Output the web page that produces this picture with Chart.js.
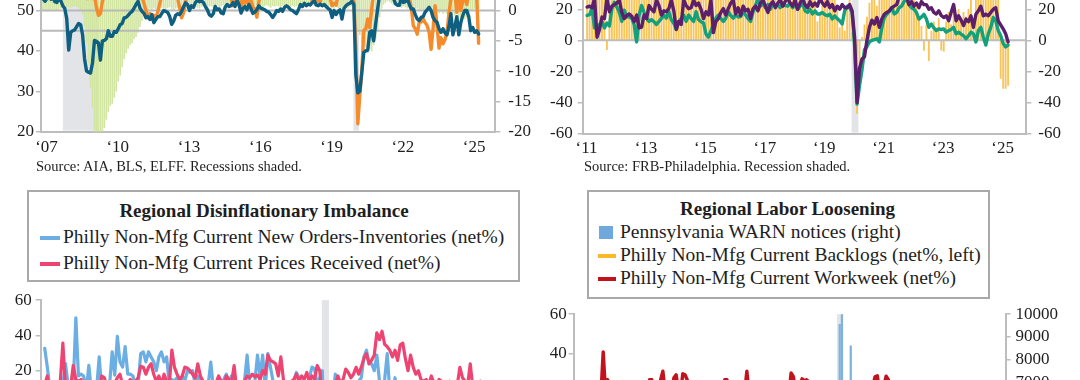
<!DOCTYPE html>
<html lang="en">
<head>
<meta charset="UTF-8">
<title>Regional indicators</title>
<script src="https://cdn.jsdelivr.net/npm/chart.js"></script>
<style>
  html, body { margin: 0; padding: 0; }
  body { position: relative; width: 1080px; height: 380px; overflow: hidden; background: #fff;
         font-family: "Liberation Serif", serif; color: #1e1e1e; }
  .wrap { position: absolute; }
  .src { position: absolute; font-size: 14.5px; line-height: 14.5px; white-space: nowrap; }
  .lgd { position: absolute; box-sizing: border-box; border: 2px solid #a9a9a9; background: #fff; }
  .ttl { position: absolute; left: 0; height: 22px; line-height: 22px; font-size: 19px; font-weight: bold; text-align: center; white-space: nowrap; }
  .row { position: absolute; height: 22px; line-height: 22px; font-size: 19.5px; white-space: nowrap; }
  .mk { position: absolute; }
</style>
</head>
<body>

<div class="wrap" id="tl"></div>
<div class="wrap" id="tr"></div>
<div class="wrap" id="bl"></div>
<div class="wrap" id="br"></div>

<div class="src" style="left:36px;top:159px">Source: AIA, BLS, ELFF. Recessions shaded.</div>
<div class="src" style="left:584px;top:159px">Source: FRB-Philadelphia. Recession shaded.</div>

<div class="lgd" style="left:27px;top:190px;width:493px;height:92px">
  <div class="ttl" style="top:8px;width:470px">Regional Disinflationary Imbalance</div>
  <span class="mk" style="left:11px;top:44px;width:20px;height:4px;background:#6aaee4"></span>
  <div class="row" style="left:34px;top:34px">Philly Non-Mfg Current New Orders-Inventories (net%)</div>
  <span class="mk" style="left:11px;top:70px;width:20px;height:4px;background:#ee4471"></span>
  <div class="row" style="left:34px;top:60px">Philly Non-Mfg Current Prices Received (net%)</div>
</div>

<div class="lgd" style="left:587px;top:190px;width:403px;height:109px">
  <div class="ttl" style="top:6px;width:397px">Regional Labor Loosening</div>
  <span class="mk" style="left:10px;top:34px;width:14px;height:13px;background:#6fa8dc"></span>
  <div class="row" style="left:31px;top:29px">Pennsylvania WARN notices (right)</div>
  <span class="mk" style="left:9px;top:62px;width:18px;height:4px;background:#fbb829"></span>
  <div class="row" style="left:31px;top:52px">Philly Non-Mfg Current Backlogs (net%, left)</div>
  <span class="mk" style="left:9px;top:85px;width:18px;height:4px;background:#c2131d"></span>
  <div class="row" style="left:31px;top:75px">Philly Non-Mfg Current Workweek (net%)</div>
</div>

<script>
// ---------- data ----------
const recessions = [[2007.92, 2009.45], [2020.15, 2020.38]];

// top-left panel, monthly from Feb 2007
const tlStart = 2007 + 1 / 12;
const tlBlue = [
  53, 52.3, 53, 53.5, 52.8, 53.2, 52.2, 52, 53, 52.4, 51.2,
  50.5, 48, 40.2, 44.6, 45, 45.2, 46, 46.8, 46.5, 44, 38, 35,
  34.7, 34.5, 37, 42.6, 42.4, 42, 37.7, 42.5, 42.6, 43, 45, 43.6,
  43.6, 44.8, 44.6, 45.5, 46.5, 46.8, 48.2, 48.3, 48.8, 49.4, 49.8, 50.6,
  51.5, 52.3, 50.6, 49.8, 49.3, 48.2, 48.5, 47.8, 49, 47, 47.8, 48.5,
  48.5, 49.3, 50, 49.8, 49.5, 48.5, 46.6, 47.4, 48.8, 49.2, 49, 49.8,
  51, 51.9, 51.5, 50, 51.2, 50.8, 52, 52.6, 52.2, 52.4, 52, 51,
  50.2, 49, 48.6, 49.2, 51, 50.2, 50.4, 49.4, 49.2, 50.8, 51.5, 51,
  51.2, 52, 51, 52.5, 51.5, 49.4, 50.5, 51, 50.2, 51.5, 50.5, 49.3,
  49.6, 50.2, 51.2, 50.6, 50.4, 50.2, 49.8, 49.6, 49, 48.3, 49, 50,
  49.8, 50.4, 49.8, 50.8, 51.2, 50.8, 50.2, 50, 49.6, 49.2, 50.2, 51.5,
  51, 51.8, 51.2, 51.6, 51.4, 52, 52.4, 51.4, 51.2, 51.6, 51.2, 51.5,
  51, 50.5, 50.2, 48.3, 50, 49, 49.8, 50.2, 47.9, 50.5, 51.2, 51.6,
  51.8, 52.3, 51.5, 34, 29.6, 30, 34.6, 39.6, 40, 40.2, 44.6, 45,
  42.5, 46.7, 50.4, 54, 55, 56, 55, 55, 54, 54.5, 53, 51.7,
  51.3, 51.3, 53.5, 52, 52.2, 53, 51.5, 50.4, 50.4, 49, 47.9, 47.5,
  48.3, 48.5, 49.6, 50.2, 50.8, 50, 48.3, 47.5, 47.1, 45.5, 44.6, 45.5,
  44.5, 44, 46, 49.2, 44, 46, 48.5, 44, 47, 48.8, 50, 50,
  48.5, 45, 45.8, 44.6, 45, 44.2
];
const tlOrange = [
  5, 4.5, 5, 6, 5, 4.5, 5, 4, 4.5, 3.5, 3,
  3, 3.5, 2.5, 3, 3.5, 2.5, 3, 2.5, 3, 2.5, 2.5, 2,
  2, 2.5, 2, 2.5, 0.5, -0.8, -0.5, 1.5, 2.5, 3, 3.5, 3,
  3.5, 4, 4.5, 4, 5, 4.5, 4, 4.5, 3.5, 4, 3.5, 3,
  3, 2.5, 2.5, 2.2, 1.2, 0, -1.2, -0.5, -1.5, -0.8, -1.2, -0.2,
  1.2, 2.5, 3, 3.5, 3, 3.5, 3, 2.5, 3, 2, 0.5, -1.2,
  -0.4, 1.5, 2.5, 3, 3.5, 3, 3.5, 4, 3.5, 3, 3.5, 3,
  3, 3.5, 3, 2.5, 3, 3.5, 3, 2.5, 3, 2.5, 2, 2.5,
  2, 0.8, 2.5, 1.5, 2, 0.5, 2.5, 1.2, 2, 0.9, 1.8, 0.6,
  0.3, -1.1, 1.5, 2.5, 3, 2.5, 3, 3.5, 3, 2.5, 3, 3.5,
  3, 3.5, 4, 3.5, 3, 3.5, 4, 3, 3.5, 3, 3.5, 3,
  3, 2.5, 3, 2.5, 3, 1.5, 2, 1.4, 1.8, 1.5, 2.5, 3,
  2.5, 3, 2, 0.8, 1.2, 0.9, 2.5, 3, 2.5, 2, 2.5, 3,
  3, 2.5, 1.5, -6, -18.7, -14, -10, -3.3, -3, -1.4, -2.8, 0.3,
  3, 4, 5, 6, 6.5, 6, 5.5, 5, 5.5, 5, 4.5, 4,
  4, 3.5, 3, 3, 2.5, 2.5, 2, 0.5, -2.5, -3, -3.9, -1.9,
  -1.9, -1.4, -2, -2.5, -3.6, -6.4, -3, 0.8, -2.5, -6.2, -4.5, -5.5,
  -4.8, -3.6, -0.5, 2, 2.5, 3, -0.3, 3, 0, 1.5, 2.5, 1,
  3, 3.5, 3, 2.5, 2.5, -5.4
];
// bars hang from the top of the panel down to these levels (left scale)
const tlBarTop = 60;
const tlBars = [
  50, 50.3, 49.8, 50.2, 50, 50.4, 49.9, 50.1, 50.3, 50.6, 50.8,
  51, 50.8, 51, 50.8, 51, 51.2, 51, 50.6, 50, 49, 46, 42,
  37, 31, 26, 19, 17, 16, 17, 19, 21, 23, 25, 26.5,
  27, 28.5, 30, 32.5, 34, 36, 38, 39.5, 40.6, 41.5, 42, 43,
  43.5, 44.6, 46, 47.5, 49, 50, 50.3, 50.5, 50.2, 50.6, 50.4, 50.8,
  50.5, 50.8, 50.6, 50.2, 50.7, 50.9, 50.4, 50.3, 50.6, 50.8, 50.4, 50.7,
  50.9, 50.6, 51, 50.7, 50.5, 50.9, 51.1, 50.8, 50.6, 51, 51.2, 50.9,
  50.7, 51, 51.2, 50.8, 51, 51.3, 50.9, 51.1, 51.4, 51, 51.2, 51.5,
  51.1, 51.3, 51.5, 51, 51.4, 51.6, 51.2, 51.5, 51.3, 51.7, 51.4, 51.1,
  51.2, 51.4, 51, 51.3, 50.9, 51.2, 51.4, 51.1, 50.8, 51.2, 51, 51.3,
  51.1, 50.9, 51.3, 51, 51.2, 50.8, 51.1, 51.3, 50.9, 51.2, 51, 51.4,
  51.2, 51.4, 51, 51.3, 51.1, 51.5, 51.2, 51, 51.3, 51.1, 50.9, 51.2,
  51, 50.8, 51.1, 50.9, 50.6, 51, 50.7, 50.5, 50.8, 50.4, 50.7, 50.6,
  51, 51.2, 50, 47, 45, 44, 42, 40, 41, 39.5, 40.5, 40,
  41.5, 43, 45, 48.5, 50.5, 51.5, 52, 52.5, 52.2, 51.8, 51.5, 51.2,
  51, 51.3, 50.8, 51.1, 50.9, 50.6, 50.8, 50.4, 50.6, 50.2, 50.5, 50.1,
  50.3, 49.9, 50.2, 49.7, 50, 49.6, 49.9, 49.5, 49.8, 49.4, 49.7, 49.3,
  49.6, 49.2, 49.5, 49.1, 49.4, 48.8, 49.2, 48.6, 48.2, 48.5, 48, 48.4,
  49.5, 50, 50.2, 50.5, 50.3, 50.6
];
const tlRefLevels = [50, 45];
const tlYears = [2007, 2010, 2013, 2016, 2019, 2022, 2025];

// top-right panel, monthly from Apr 2011
const phStart = 2011.25;
const trPurple = [
  21.4, 22, 21, 27, 2, 7, 15, 14, 27,
  18.4, 22, 23, 24, 26, 18, 14, 16, 17, 15.5, 12, 16.3,
  8, 8.5, 16.3, 14, 22.4, 20, 18.4, 26, 22.4, 16.3, 19, 18.4,
  20.4, 26, 19, 7, 12.2, 10.2, 26, 22.4, 20.4, 21, 26, 22.4,
  24, 20, 14, 18.4, 16.3, 26, 5, 12.2, 14, 18, 20.4, 16.3,
  20.4, 24, 26, 17, 21, 16, 22, 19, 20, 14, 20.4, 22,
  19, 24, 26, 22, 18, 23, 25, 21, 24, 26, 22, 25,
  27, 24, 22, 26, 20, 24, 27, 23, 21, 25, 22, 24,
  22, 27, 24, 22, 25, 21, 23, 19, 22, 20, 23, 21,
  21, 23, 19, 2, -40, -18, -12, -10.5, 0, 8.4, 13, 10.5,
  14.7, 8.4, 13.7, 16.8, 18, 19, 21, 22, 23, 28, 29, 28,
  28, 23, 25, 22, 24, 21, 25, 23, 23, 20, 21, 18,
  17, 19, 16, 14.7, 15.8, 12.6, 18, 23, 12.6, 15.8, 13, 9.5,
  13.7, 12, 15.8, 8.4, 16.8, 19, 22, 15.8, 16.8, 15.8, 18, 20,
  21, 12.6, 10, 7.4, 4.2, -1
];
const trGreen = [
  16, 16.5, 20.4, 8, 8, 10.2, 12.2, 8, 11.2,
  9.2, 20.4, 24.5, 21.4, 18, 12.2, 19.4, 15.3, 15, 14.3, 10.2, -1,
  16.3, 22.4, 18, 14.3, 12.2, 13.3, 12, 10.2, 12.2, 14, 16.3, 14.3,
  18.4, 13.3, 11, 7.1, 12.2, 14, 16.3, 12.2, 16.3, 14, 12.2, 18.4,
  13.3, 12, 11.2, 4.1, 2, 6.1, 10.2, 14.3, 16.3, 14, 12.2, 14.3,
  18.4, 16, 14.3, 16.3, 15, 15.3, 18.4, 16.3, 14, 12.2, 18.4, 22.4,
  27, 22, 24, 21, 23, 20, 24, 22, 23, 21, 24, 22.4,
  22, 24, 21, 23, 20, 22, 24, 19, 18, 20, 17, 19,
  17, 17, 18, 16.5, 15.8, 16.8, 13.7, 15.8, 14, 12.6, 10.5, 19,
  22, 21, 18, -3, -41, -29, -19, -6, -4, -1, 0, 0.5,
  1, -1, 8, 14.7, 16.8, 18.5, 21, 17, 18, 21, 22, 25,
  27, 23, 21, 20, 17.9, 13.7, 15, 16.8, 13.7, 8.4, 10.5, 8,
  6.3, 7.4, 7, 7.4, 5.3, 6.3, 7, 8.4, 4.2, 5.3, 4, 3,
  1, 3, 5.3, 4.2, -1, 6.3, 8.4, 2, -3, 4.2, 8.4, 14.7,
  12.6, 6.3, 3, -2, -4.2, -3
];
const trBars = [
  35, 38, 32, 30, 27, 33, 36, 30, -6,
  30, 34, 38, 36, 33, 31, 35, 32, 29, 34, 30, 28,
  27, 31, 35, 33, 38, 36, 34, 40, 37, 33, 35, 32,
  34, 36, 30, 28, 33, 31, 37, 35, 33, 38, 36, 34,
  33, 30, 28, 27, 29, 33, 28, 31, 34, 32, 30, 35,
  33, 37, 35, 32, 34, 30, 36, 33, 31, 29, 34, 38,
  40, 37, 42, 38, 36, 39, 35, 38, 41, 37, 39, 40,
  38, 41, 36, 39, 37, 35, 40, 36, 33, 35, 31, 28,
  12, 18, 28, 32, 29, 27, 31, 26, 22, 8, 12, 6,
  20, 26, 5, -25, -47, -15, 2, 10, 15, 24, 28, 26,
  22, 27, 32, 36, 40, 38, 42, 39, 37, 40, 36, 38,
  35, 33, 30, 28, 22, 15, 9, -6.5, 10, -13, 6, 12,
  8, 14, -6.3, -7, 12, 18, 10, 22, 16, 20, 14, 18,
  15, 20, 28, 12, 26, 30, 35, 32, 29, 33, 31, 34,
  28, 26, -24.5, -31, -31, -29
];
const trRefLevels = [0];
const trYears = [2011, 2013, 2015, 2017, 2019, 2021, 2023, 2025];

// bottom-left panel, monthly from Apr 2011
const newOrdersInv = [
  32.7, 22, 10, 6, 8, 10, 5, 12, 24,
  12, 14, 12, 50, 17, 18, 17, 8, 23, 8, 6, 10,
  27.8, 8, 6, 10, 12, 30.7, 17.4, 39.5, 25, 22, 33.6, 18,
  18, 17, 10, 12, 29.7, 30.7, 25, 30.7, 27.8, 25, 20, 27.8,
  30.7, 25, 27.8, 12, 15, 14, 16, 13, 17, 14, 20, 19,
  20, 12, 17, 15, 8, 10, 12, 24.8, 10, 6, 8, 12,
  15, 18, 14, 17, 10, 6, 8, 12, 14, 28.8, 12, 8,
  14, 28.8, 17, 28.8, 10, 29.7, 21.9, 14, 8, 6, 10, 5,
  8, 12, 10, 14, 19, 16, 10, 8, 12, 16, 22, 21,
  12, 16, 20, -40, -30, -10, 5, 18, 8, 10, 6, 8,
  10, 5, 12, 8, 14, 16, 27.8, 31.6, 24, 23.9, 20, 28.8,
  14, 8, 15, 29.7, 8, 6, 16, 6, 4, 8, 2, 6,
  10, 3, 7, 5, 12, 2, 8, 6, 4, 10, 9, 3,
  7, 1, 5, 11, 6, 8, 2, 4, 9, 6, 3, 10,
  5, 7, 2, 8, 4, 6
];
const pricesReceived = [
  12, 17, 8, 10, 12, 9, 14, 35.6, 10,
  13, 11, 22.9, 15, 14, 15, 10, 12, 9, 11, 8, 12,
  10, 17, 16, 10, 12, 9, 13, 16, 18, 12, 10, 13,
  15, 12, 14, 16, 22.5, 22, 18, 21.9, 23.9, 18, 14, 17,
  12, 18, 14, 12, 31.7, 21.9, 18, 15, 17, 22, 21.5, 20,
  18, 16, 23.9, 17, 14, 12, 8, 12, 10, 13, 17, 14,
  12, 17, 15, 13, 22.9, 9, 12, 10, 14, 17, 16, 18,
  16.5, 17.5, 15, 20, 18, 28.8, 25.8, 25, 23.9, 17, 27.8, 15,
  10, 12, 14, 15, 18, 14, 17, 15, 19, 14, 17, 15,
  22.9, 20, 5, -15, -10, 2, 8, 12, 17, 13, 15, 20.9,
  19, 16, 18, 21.9, 18, 22, 26.8, 29.7, 23.9, 26, 28.8, 41.5,
  37.6, 42.4, 35, 33.6, 31.6, 27.8, 31.6, 25.8, 34.6, 35.6, 26.8, 20,
  28.8, 22, 18, 20, 15, 14, 15, 12, 17, 13, 12, 15,
  14, 10, 12, 14, 13, 9, 12, 21.9, 16, 14, 12, 23.9,
  10, 12, 8, 14, 10, 12
];

// bottom-right panel
const workweek = [
  20, 41, 22, 27, 18, 20, 16, 19, 21,
  18, 22, 17, 20, 26, 19, 21, 17, 20, 18, 22, 19,
  21, 27, 27, 20, 18, 22, 27, 31.3, 21, 19, 22, 20,
  28, 29.5, 22, 20, 30, 29.5, 27, 21, 18, 20, 22, 19,
  25.5, 20, 18, 21, 26, 19, 17, 20, 22, 18, 20, 27,
  27, 20, 18, 21, 19, 22, 17, 20, 21, 31.3, 20, 18,
  19, 21, 17, 20, 22, 18, 16, 20, 19, 21, 18, 20,
  26, 20, 18, 21, 19, 30.4, 28.7, 22, 20, 24, 27.5, 26.5,
  27, 26, 21, 19, 22, 18, 20, 21, 17, 19, 20, 18,
  19, 20, 12, -40, -25, -5, 5, 10, 12, 15, 14, 16,
  18, 15, 20, 19, 22, 21, 24, 28.5, 29, 22, 20, 24,
  28.8, 27, 22, 20, 19, 21, 18, 20, 25.5, 19, 17, 18,
  16, 18, 15, 17, 14, 16, 18, 15, 13, 16, 14, 12,
  15, 13, 16, 12, 14, 11, 15, 13, 12, 14, 10, 13,
  11, 12, 9, 13, 10, 8
];
// WARN notices, monthly from Jan 2019 (only the covid spike rises into view)
const warnStart = 2019;
const warnNotices = [
  1800, 2100, 1500, 2400, 1900, 1600, 2200, 1700, 2000, 1400, 1800, 2300,
  2000, 2600, 5200, 9550, 11500, 4100, 3300, 2800, 8600, 3100, 2400, 2900,
  2200, 1900, 2500, 1700, 1500, 2100, 1800, 1600, 1900, 1400, 1700, 2000
];

// ---------- helpers ----------
Chart.defaults.font.family = "'Liberation Serif', serif";
Chart.defaults.font.size = 17;
Chart.defaults.color = '#1e1e1e';

const axisGray = '#bdbdbd';
const labelShift = 0.23; // year labels sit a little after January

function monthly(start, vals) {
  return vals.map((v, i) => ({ x: start + i / 12, y: v }));
}
function level(v, x0, x1) {
  return [{ x: x0, y: v }, { x: x1, y: v }];
}
function lineSet(data, color, axis, order, width) {
  return { type: 'line', data, yAxisID: axis, order, borderColor: color, borderWidth: width || 3.2,
           pointRadius: 0, tension: 0, fill: false, borderJoinStyle: 'round', borderCapStyle: 'round' };
}
function barSet(data, color, axis, order, thick, base) {
  const d = { type: 'bar', data, yAxisID: axis, order, backgroundColor: color,
              barThickness: thick, borderWidth: 0, clip: 0 };
  if (base !== undefined) d.base = base;
  return d;
}
function yAxis(pos, min, max, ticks, pad) {
  return {
    type: 'linear', position: pos, min, max,
    afterBuildTicks: s => { s.ticks = ticks.map(v => ({ value: v })); },
    ticks: { padding: pad, callback: v => String(v) },
    grid: { display: true, drawOnChartArea: false, drawTicks: true, tickLength: 5, color: axisGray, lineWidth: 1.5 },
    border: { display: true, color: axisGray, width: 2 }
  };
}
function xAxis(min, max, years, pad) {
  return {
    type: 'linear', min, max, offset: false,
    afterBuildTicks: s => { s.ticks = years.map(y => ({ value: y + labelShift })); },
    ticks: { padding: pad, maxRotation: 0, autoSkip: false,
             callback: v => '\u2018' + String(Math.floor(v)).slice(2) },
    grid: { display: false, drawTicks: false, offset: false },
    border: { display: true, color: axisGray, width: 2 }
  };
}
function steps(a, b, s) {
  const out = [];
  for (let v = a; v <= b; v += s) out.push(v);
  return out;
}

const shadePlugin = {
  id: 'shade',
  beforeDatasetsDraw(chart, args, opts) {
    const { ctx, chartArea: a, scales: { x } } = chart;
    ctx.save();
    ctx.fillStyle = opts.color;
    opts.periods.forEach(p => {
      const x0 = Math.max(x.getPixelForValue(p[0]), a.left + 1);
      const x1 = Math.min(x.getPixelForValue(p[1]), a.right - 1);
      if (x1 > x0) ctx.fillRect(x0, a.top, x1 - x0, a.bottom - a.top - 1);
    });
    ctx.restore();
  }
};

function baseOptions(scales) {
  return {
    responsive: false, maintainAspectRatio: false, animation: false, events: [],
    layout: { padding: 0 },
    scales,
    plugins: { legend: { display: false }, tooltip: { enabled: false },
               shade: { periods: recessions, color: '#e3e4e7' } }
  };
}

// build once, measure margins round the plot area, then size and place the canvas
function place(id, rect, makeConfig) {
  const wrap = document.getElementById(id);
  const canvas = document.createElement('canvas');
  wrap.appendChild(canvas);
  canvas.width = Math.round(rect.w + 160);
  canvas.height = Math.round(rect.h + 80);
  let chart = new Chart(canvas, makeConfig());
  const a = chart.chartArea;
  const ml = a.left, mt = a.top, mr = chart.width - a.right, mb = chart.height - a.bottom;
  chart.destroy();
  const w = Math.round(rect.w + ml + mr), h = Math.round(rect.h + mt + mb);
  canvas.width = w; canvas.height = h;
  canvas.style.width = w + 'px'; canvas.style.height = h + 'px';
  wrap.style.left = Math.round(rect.x - ml) + 'px';
  wrap.style.top = Math.round(rect.y - mt) + 'px';
  return new Chart(canvas, makeConfig());
}

// ---------- top-left ----------
const tlX = [2007, 2026.12];
place('tl', { x: 40.5, y: -29.8, w: 454.5, h: 161.3 }, () => ({
  type: 'line',
  data: { datasets: [
    lineSet(monthly(tlStart, tlBlue), '#0e5f80', 'y', 0, 3.4),
    lineSet(monthly(tlStart, tlOrange), '#f68b2c', 'y2', 1, 3.4),
    ...tlRefLevels.map(v => lineSet(level(v, tlX[0], tlX[1]), '#b9b9b9', 'y', 2, 2)),
    barSet(monthly(tlStart, tlBars), '#d2e5a3', 'y', 5, 1, tlBarTop)
  ] },
  options: baseOptions({
    x: xAxis(tlX[0], tlX[1], tlYears, 6),
    y: yAxis('left', 20, 60, steps(20, 60, 10), 2),
    y2: yAxis('right', -20, 20 / 3, steps(-20, 5, 5), 8)
  }),
  plugins: [shadePlugin]
}));

// ---------- top-right ----------
const trX = [2011.1, 2026.03];
place('tr', { x: 583, y: -22, w: 444, h: 155 }, () => ({
  type: 'line',
  data: { datasets: [
    lineSet(monthly(phStart, trPurple), '#5b1f6b', 'y', 0, 3.4),
    lineSet(monthly(phStart, trGreen), '#13a07c', 'y', 1, 3.4),
    ...trRefLevels.map(v => lineSet(level(v, trX[0], trX[1]), '#bdbdbd', 'y', 2, 2)),
    barSet(monthly(phStart, trBars), '#f9c458', 'y', 5, 1.2)
  ] },
  options: baseOptions({
    x: xAxis(trX[0], trX[1], trYears, 5),
    y: yAxis('left', -60, 40, steps(-60, 40, 20), 5),
    y2: yAxis('right', -60, 40, steps(-60, 40, 20), 7)
  }),
  plugins: [shadePlugin]
}));

// ---------- bottom-left ----------
place('bl', { x: 40.5, y: 300.5, w: 463.5, h: 211.2 }, () => ({
  type: 'line',
  data: { datasets: [
    lineSet(monthly(phStart, pricesReceived), '#ee4471', 'y', 0, 3.2),
    lineSet(monthly(phStart, newOrdersInv), '#6aaee4', 'y', 1, 3.2)
  ] },
  options: baseOptions({
    x: xAxis(2011.12, 2026, trYears, 5),
    y: yAxis('left', -60, 60, steps(-60, 60, 20), 4)
  }),
  plugins: [shadePlugin]
}));

// ---------- bottom-right ----------
place('br', { x: 574, y: 314, w: 432, h: 238.2 }, () => ({
  type: 'line',
  data: { datasets: [
    lineSet(monthly(phStart, workweek), '#c2131d', 'y', 0, 3.4),
    barSet(monthly(warnStart, warnNotices), '#7fb2e0', 'y2', 1, 1.6)
  ] },
  options: baseOptions({
    x: xAxis(2010.22, 2026.5, trYears, 5),
    y: yAxis('left', -60, 60, steps(-60, 60, 20), 2),
    y2: yAxis('right', -540, 10000, steps(0, 10000, 1000), 5)
  }),
  plugins: [shadePlugin]
}));
</script>
</body>
</html>
